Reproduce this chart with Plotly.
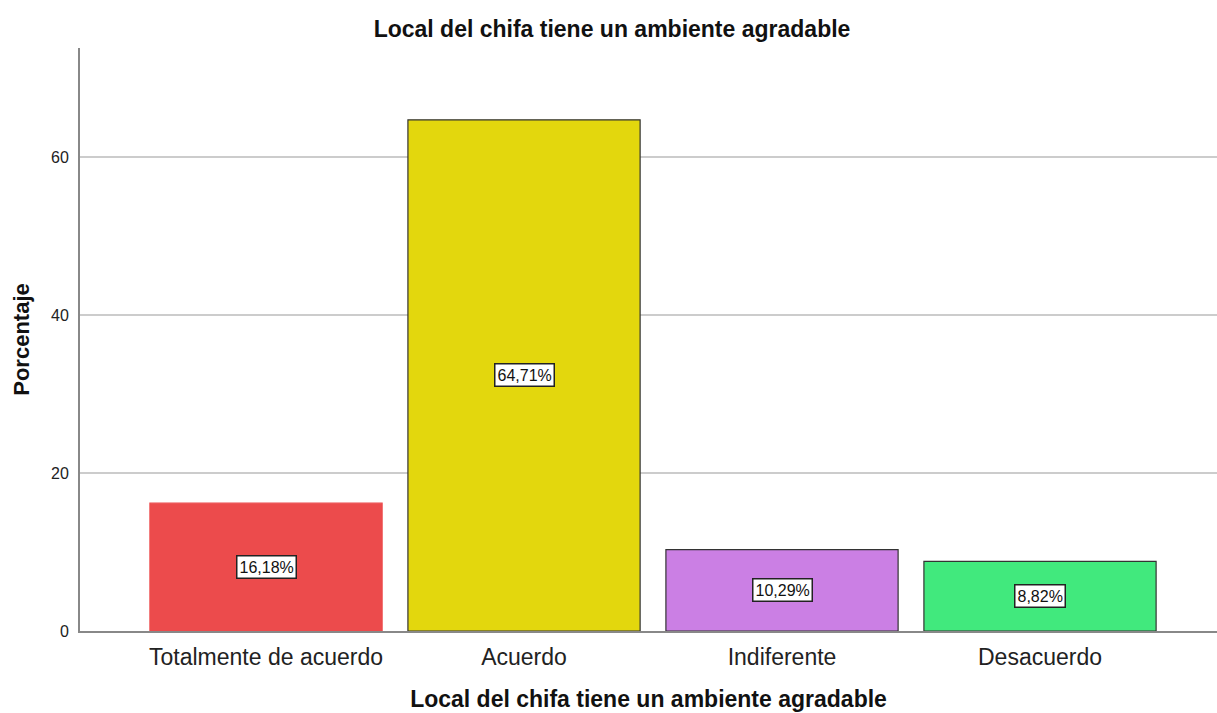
import plotly.graph_objects as go

categories = ["Totalmente de acuerdo", "Acuerdo", "Indiferente", "Desacuerdo"]
values = [16.18, 64.71, 10.29, 8.82]
labels = ["16,18%", "64,71%", "10,29%", "8,82%"]
colors = ["#EC4B4C", "#E3D70D", "#CB7FE4", "#41E97D"]
outline = ["#EC4B4C", "#333333", "#333333", "#333333"]
y_ticks = [0, 20, 40, 60]

fig = go.Figure()
fig.add_trace(go.Bar(
    x=categories, y=values, width=0.9,
    marker=dict(color=colors, line=dict(color=outline, width=1.2)),
    hoverinfo="skip",
))

for c, v, t in zip(categories, values, labels):
    fig.add_annotation(
        x=c, y=v / 2, xref="x", yref="y", text=t, showarrow=False,
        font=dict(family="Liberation Sans, Arial", size=16, color="#111111"),
        bgcolor="white", bordercolor="#222222", borderwidth=1.5, borderpad=2,
    )

fig.update_layout(
    width=1217, height=713,
    margin=dict(l=80, r=0, t=48, b=82),
    paper_bgcolor="white", plot_bgcolor="white",
    showlegend=False,
    bargap=0.1,
    title=dict(text="<b>Local del chifa tiene un ambiente agradable</b>",
               x=612 / 1217, xref="container", y=1 - 29 / 713, yref="container",
               xanchor="center", yanchor="middle",
               font=dict(family="Liberation Sans, Arial", size=23, color="#111111")),
    font=dict(family="Liberation Sans, Arial"),
)

fig.update_xaxes(
    range=[-0.721, 3.686],
    showline=True, linecolor="#888888", linewidth=2,
    showgrid=False, ticks="",
    tickfont=dict(size=23, color="#222222"), ticklabelstandoff=4,
    title=dict(text="<b>Local del chifa tiene un ambiente agradable</b>",
               font=dict(size=23, color="#111111"), standoff=22),
)
fig.update_yaxes(
    range=[0, 73.8], tickvals=y_ticks,
    showline=True, linecolor="#888888", linewidth=2,
    showgrid=True, gridcolor="#CCCCCC", gridwidth=1.5,
    zeroline=False, ticks="",
    tickfont=dict(size=16, color="#222222"), ticklabelstandoff=6,
    title=dict(text="<b>Porcentaje</b>", font=dict(size=22, color="#111111"), standoff=15),
)

fig.write_html("out.html")
